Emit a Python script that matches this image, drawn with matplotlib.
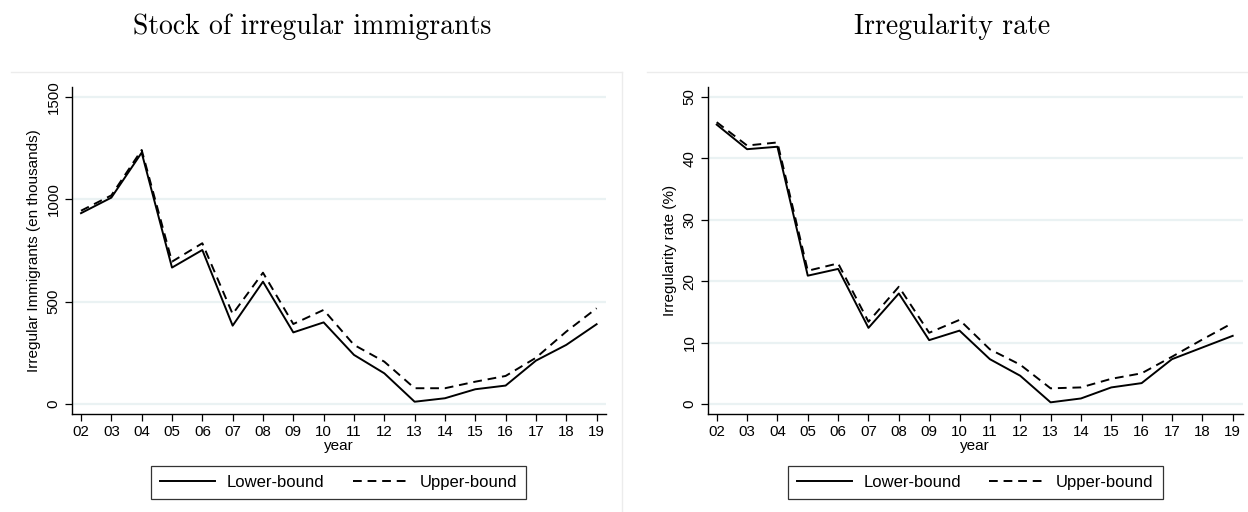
import matplotlib
matplotlib.use("Agg")
import matplotlib.pyplot as plt
from matplotlib.lines import Line2D

plt.rcParams["font.family"] = ["Liberation Sans", "DejaVu Sans"]

years = list(range(2, 20))
year_labels = ["%02d" % y for y in years]

stock_lower = [933, 1009, 1229, 667, 753, 383, 598, 350, 399, 240, 150, 11, 28, 72, 90, 212, 289, 390]
stock_upper = [945, 1020, 1242, 696, 786, 440, 642, 391, 460, 289, 207, 77, 77, 109, 137, 226, 354, 468]

rate_lower = [45.5, 41.5, 41.9, 20.9, 22.0, 12.4, 18.0, 10.4, 11.95, 7.3, 4.6, 0.27, 0.9, 2.7, 3.4, 7.3, 9.2, 11.1]
rate_upper = [45.9, 42.1, 42.6, 21.7, 22.9, 13.4, 19.1, 11.6, 13.7, 8.9, 6.4, 2.55, 2.7, 4.1, 5.0, 7.7, 10.5, 13.2]

stock_ticks = [0, 500, 1000, 1500]
rate_ticks = [0, 10, 20, 30, 40, 50]

grid_col = "#eaf2f3"
frame_col = "#ececec"

fig = plt.figure(figsize=(12.48, 5.12), dpi=100)

# faint stata graph-region borders
fig.add_artist(Line2D([11 / 1248, 622 / 1248], [1 - 72 / 512, 1 - 72 / 512], color=frame_col, lw=1))
fig.add_artist(Line2D([622 / 1248, 622 / 1248], [1 - 72 / 512, 0], color=frame_col, lw=1))
fig.add_artist(Line2D([647 / 1248, 1.0], [1 - 72 / 512, 1 - 72 / 512], color=frame_col, lw=1))

ax1 = fig.add_axes([71.7 / 1248, 1 - 414 / 512, 534.3 / 1248, 327 / 512])
ax2 = fig.add_axes([707.7 / 1248, 1 - 414 / 512, 535 / 1248, 327 / 512])


def style_axis(ax, lower, upper, yticks, ylim, xlim, ylabel):
    for t in yticks:
        ax.axhline(t, color=grid_col, lw=1.6, zorder=0)
    ax.plot(years, lower, color="black", lw=1.4, label="Lower-bound")
    ax.plot(years, upper, color="black", lw=1.4, dashes=(4.5, 3), label="Upper-bound")
    ax.set_xlim(*xlim)
    ax.set_ylim(*ylim)
    ax.set_xticks(years)
    ax.set_xticklabels(year_labels)
    ax.set_yticks(yticks)
    ax.set_yticklabels([str(t) for t in yticks], rotation=90, va="center")
    ax.spines["top"].set_visible(False)
    ax.spines["right"].set_visible(False)
    ax.spines["left"].set_linewidth(1.0)
    ax.spines["bottom"].set_linewidth(1.0)
    ax.tick_params(axis="both", direction="out", length=5, width=0.9, labelsize=10.8, pad=3)
    ax.set_xlabel("year", fontsize=11, labelpad=0)
    ax.set_ylabel(ylabel, fontsize=11, labelpad=4)
    leg = ax.legend(loc="upper center", bbox_to_anchor=(0.5, -0.159), ncol=2, frameon=True,
                    fancybox=False, edgecolor="black", fontsize=12, handlelength=3.3,
                    columnspacing=1.7, borderpad=0.55, handletextpad=0.7, borderaxespad=0)
    leg.get_frame().set_linewidth(0.9)


style_axis(ax1, stock_lower, stock_upper, stock_ticks, (-49, 1550), (1.693, 19.31),
           "Irregular Immigrants (en thousands)")
style_axis(ax2, rate_lower, rate_upper, rate_ticks, (-1.63, 51.63), (1.703, 19.33),
           "Irregularity rate (%)")

fig.text(312 / 1248, 1 - 27 / 512, "Stock of irregular immigrants", family="cmr10",
         fontsize=20, ha="center", va="center")
fig.text(952 / 1248, 1 - 27 / 512, "Irregularity rate", family="cmr10",
         fontsize=20, ha="center", va="center")

fig.savefig("out.png", dpi=100)
